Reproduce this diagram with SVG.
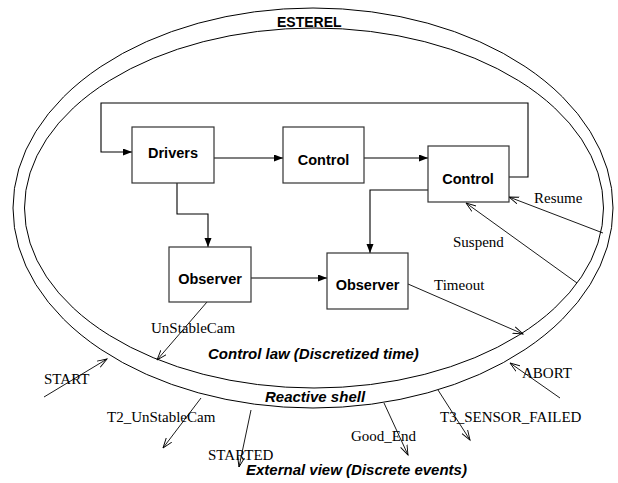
<svg xmlns="http://www.w3.org/2000/svg" width="618" height="483" viewBox="0 0 618 483">
<style>
.bg{fill:#fff}
.ring{fill:none;stroke:#000;stroke-width:1}
.box{fill:#fff;stroke:#333;stroke-width:1.2}
.flow{fill:none;stroke:#000;stroke-width:1.1}
.sig{fill:none;stroke:#000;stroke-width:0.9}
.node{font-family:"Liberation Sans",Arial,sans-serif;font-weight:bold;font-size:14.5px;text-anchor:middle;fill:#000}
.region{font-family:"Liberation Sans",Arial,sans-serif;font-weight:bold;font-style:italic;font-size:15px;fill:#000}
.lbl{font-family:"Liberation Serif","Times New Roman",serif;font-size:15px;fill:#000}
</style>
<defs>
<marker id="fa" markerUnits="userSpaceOnUse" markerWidth="10" markerHeight="8" refX="9" refY="3.5" orient="auto">
<path d="M0,0 L9,3.5 L0,7 z" fill="#000"/>
</marker>
<marker id="oa" markerUnits="userSpaceOnUse" markerWidth="12" markerHeight="10" refX="10" refY="4" orient="auto">
<path d="M0,0.5 L10,4 L0,7.5" fill="none" stroke="#000" stroke-width="0.9"/>
</marker>
</defs>
<rect class="bg" x="0" y="0" width="618" height="483"/>
<g id="shell">
<ellipse class="ring" cx="313" cy="208" rx="300" ry="200"/>
<ellipse class="ring" cx="314" cy="208" rx="289.5" ry="180"/>
<text x="277" y="27" class="node" style="text-anchor:start;font-size:14px">ESTEREL</text>
<text x="208" y="359" class="region">Control law (Discretized time)</text>
<text x="265" y="402" class="region">Reactive shell</text>
<text x="246" y="475" class="region">External view (Discrete events)</text>
</g>
<g id="connectors">
<polyline class="flow" points="509,177 528,177 528,103 101,103 101,152 132,152" marker-end="url(#fa)"/>
<line class="flow" x1="214" y1="158" x2="283" y2="158" marker-end="url(#fa)"/>
<line class="flow" x1="364" y1="158" x2="428" y2="158" marker-end="url(#fa)"/>
<polyline class="flow" points="177,183 177,214 208,214 208,247" marker-end="url(#fa)"/>
<polyline class="flow" points="428,190 370,190 370,253" marker-end="url(#fa)"/>
<line class="flow" x1="251" y1="278" x2="327" y2="278" marker-end="url(#fa)"/>
<line class="sig" x1="603" y1="233" x2="509" y2="197" marker-end="url(#oa)"/>
<line class="sig" x1="577" y1="283" x2="466" y2="203" marker-end="url(#oa)"/>
<line class="sig" x1="408" y1="284" x2="523" y2="334" marker-end="url(#oa)"/>
<line class="sig" x1="207" y1="302" x2="157" y2="360" marker-end="url(#oa)"/>
<line class="sig" x1="44" y1="397" x2="107" y2="359" marker-end="url(#oa)"/>
<line class="sig" x1="201" y1="398" x2="163" y2="448" marker-end="url(#oa)"/>
<line class="sig" x1="251" y1="410" x2="239" y2="467" marker-end="url(#oa)"/>
<line class="sig" x1="384" y1="403" x2="408" y2="455" marker-end="url(#oa)"/>
<line class="sig" x1="438" y1="390" x2="470" y2="440" marker-end="url(#oa)"/>
<line class="sig" x1="560" y1="398" x2="510" y2="363" marker-end="url(#oa)"/>
<text class="lbl" x="534" y="203">Resume</text>
<text class="lbl" x="453" y="247">Suspend</text>
<text class="lbl" x="434" y="290">Timeout</text>
<text class="lbl" x="151" y="333">UnStableCam</text>
<text class="lbl" x="44" y="384">START</text>
<text class="lbl" x="522" y="378">ABORT</text>
<text class="lbl" x="107" y="422">T2_UnStableCam</text>
<text class="lbl" x="440" y="422">T3_SENSOR_FAILED</text>
<text class="lbl" x="351" y="441">Good_End</text>
<text class="lbl" x="208" y="460">STARTED</text>
</g>
<g id="drivers">
<rect class="box" x="132" y="127" width="82" height="56"/>
<text class="node" x="173" y="158">Drivers</text>
</g>
<g id="control1">
<rect class="box" x="283" y="127" width="81" height="56"/>
<text class="node" x="323.5" y="165">Control</text>
</g>
<g id="control2">
<rect class="box" x="428" y="146" width="81" height="56"/>
<text class="node" x="468" y="184">Control</text>
</g>
<g id="observer1">
<rect class="box" x="169" y="247" width="82" height="55"/>
<text class="node" x="210" y="284">Observer</text>
</g>
<g id="observer2">
<rect class="box" x="327" y="253" width="81" height="56"/>
<text class="node" x="367.5" y="290">Observer</text>
</g>
</svg>
